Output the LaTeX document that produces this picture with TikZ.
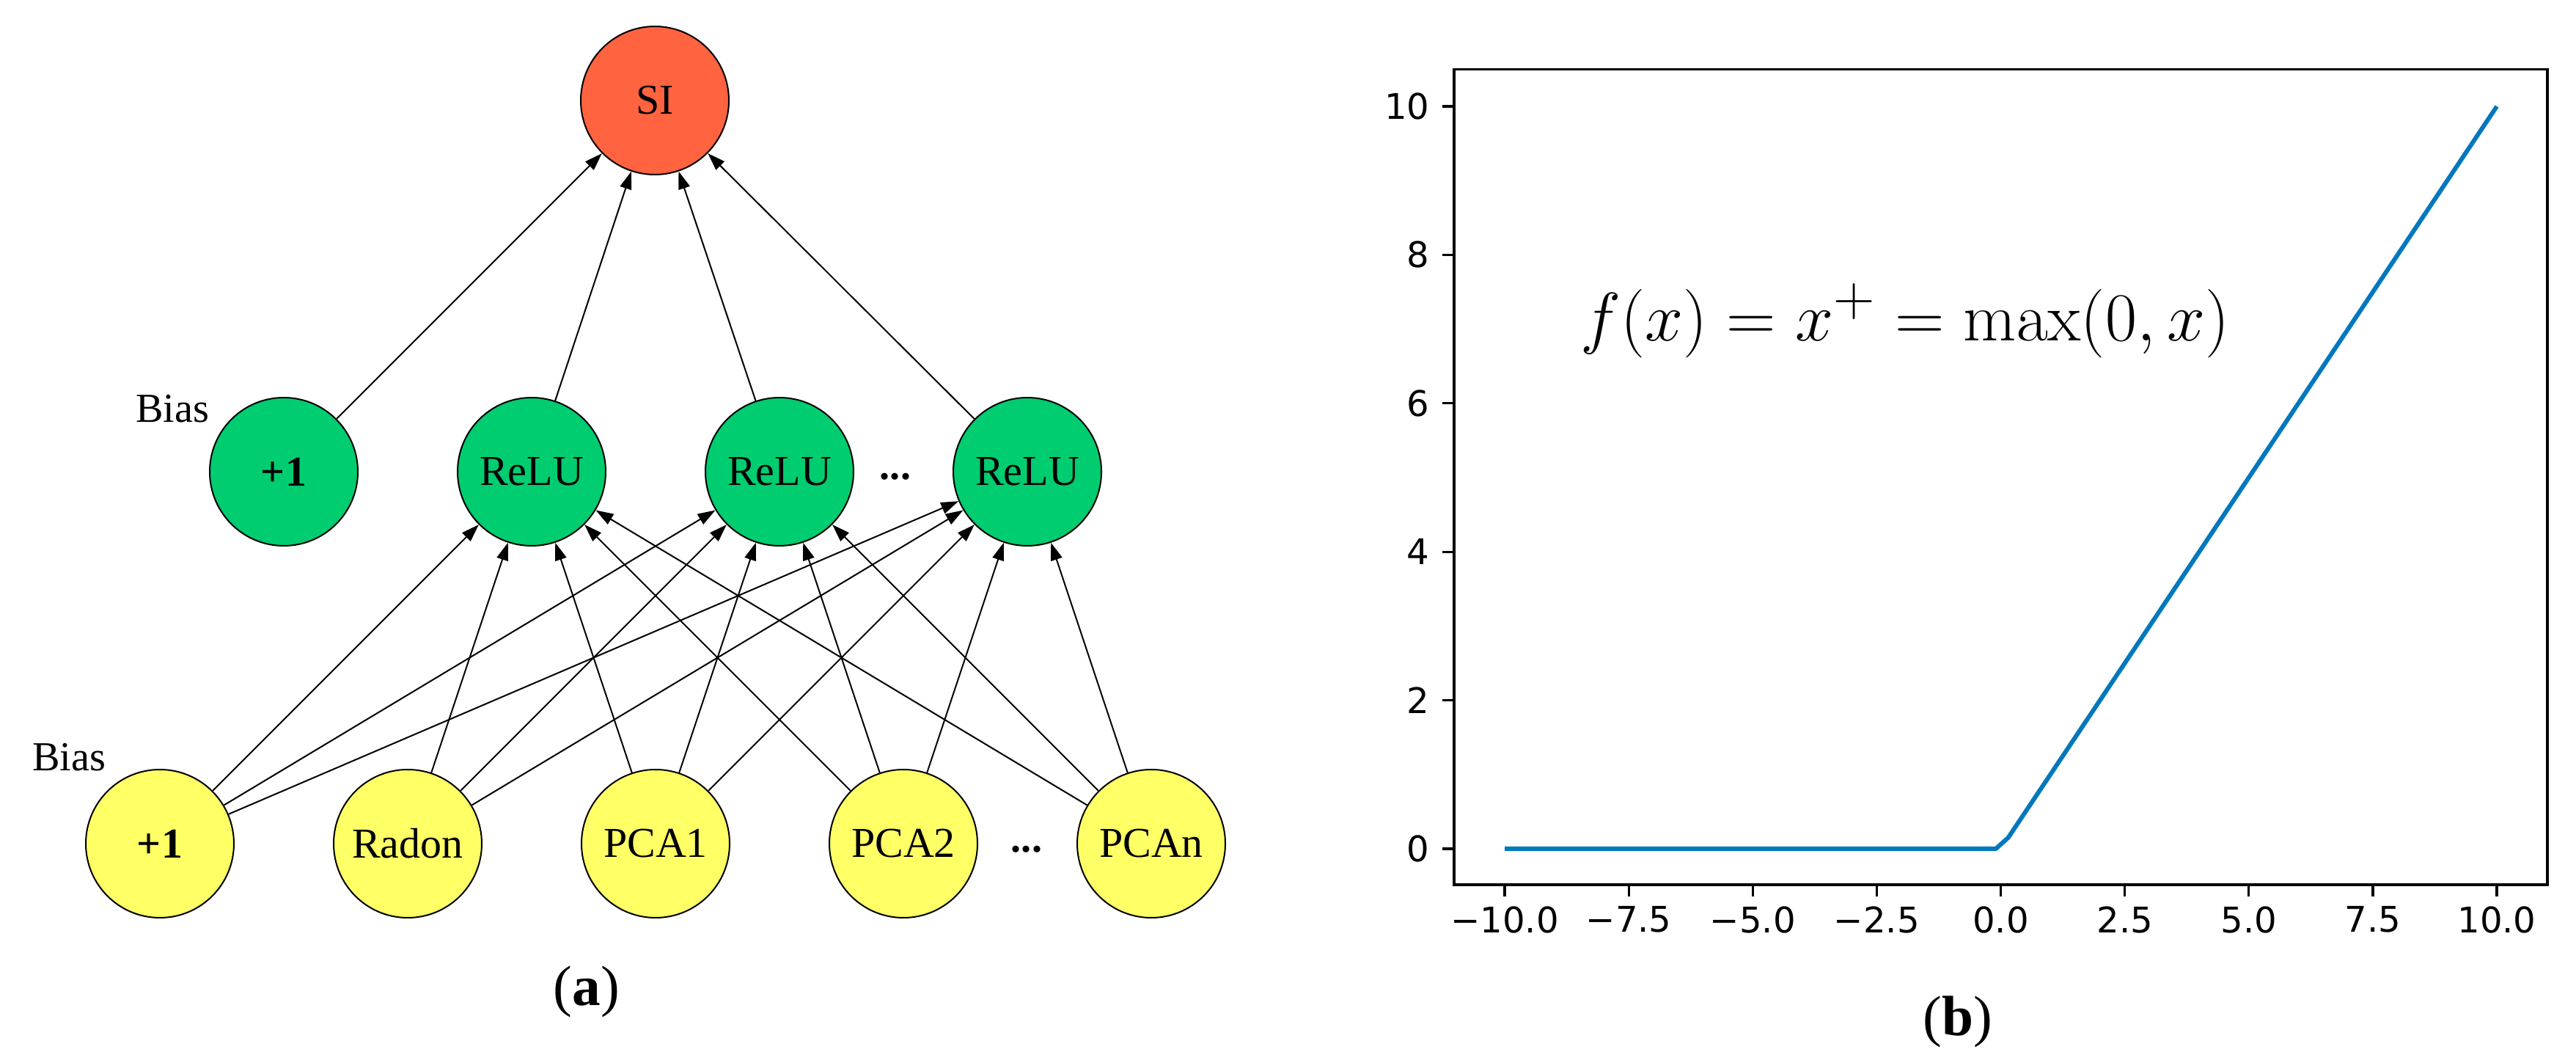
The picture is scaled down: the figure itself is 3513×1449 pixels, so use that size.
\documentclass[tikz,border=0pt]{standalone}
\usepackage[no-math]{fontspec}
\usepackage{amsmath}
\usepackage{tikz}
\usetikzlibrary{arrows.meta, positioning}
\newfontfamily\netfont{Liberation Serif}
\newfontfamily\tickfont{DejaVu Sans}
\definecolor{sired}{RGB}{255,99,64}
\definecolor{relugreen}{RGB}{0,204,112}
\definecolor{inyellow}{RGB}{255,255,102}
\definecolor{plotblue}{RGB}{0,120,190}

\begin{document}
\begin{tikzpicture}[x=0.1mm, y=-0.1mm, >={Triangle[length=2.4mm, width=1.6mm]},
  neuron/.style={circle, draw, line width=0.2mm, minimum size=20.2mm, inner sep=0pt,
    font=\netfont\fontsize{16.5}{18}\selectfont},
  conn/.style={->, line width=0.2mm},
  lbl/.style={font=\netfont\fontsize{16}{18}\selectfont, inner sep=0pt},
  axline/.style={line width=0.33mm},
  ticklbl/.style={inner sep=0pt, font=\tickfont\fontsize{13.7}{16}\selectfont},
  caption/.style={font=\netfont\fontsize{22}{26}\selectfont}]
  \useasboundingbox (0,0) rectangle (3513,1449);

  %% (a) network
  \node[neuron, fill=sired] (si) at (893,137) {SI};

  \node[neuron, fill=relugreen, font=\netfont\fontsize{16.5}{18}\selectfont\bfseries] (hb) at (387,643) {+1};
  \node[neuron, fill=relugreen] (h1) at (725,643) {ReLU};
  \node[neuron, fill=relugreen] (h2) at (1063,643) {ReLU};
  \node[neuron, fill=relugreen] (h3) at (1401,643) {ReLU};
  \node[lbl] (hdots) at (1221,650) {\bfseries ...};
  \node[lbl] (hbias) at (235,557) {Bias};

  \node[neuron, fill=inyellow, font=\netfont\fontsize{16.5}{18}\selectfont\bfseries] (ib) at (218,1150) {+1};
  \node[neuron, fill=inyellow] (radon) at (556,1150) {Radon};
  \node[neuron, fill=inyellow] (pca1) at (894,1150) {PCA1};
  \node[neuron, fill=inyellow] (pca2) at (1232,1150) {PCA2};
  \node[neuron, fill=inyellow] (pcan) at (1570,1150) {PCAn};
  \node[lbl] (idots) at (1400,1158) {\bfseries ...};
  \node[lbl] (ibias) at (94,1032) {Bias};

  \path[conn]
    (hb) edge (si)
    (h1) edge (si)
    (h2) edge (si)
    (h3) edge (si);
  \foreach \src in {ib, radon, pca1, pca2, pcan}
    \foreach \dst in {h1, h2, h3}
      \path[conn] (\src) edge (\dst);

  \node[caption] (capa) at (800,1352) {(\textbf{a})};

  %% (b) ReLU plot
  \node[font=\fontsize{24.88}{30}\selectfont] (relu) at (2598,437) {\scalebox{1.07}{$f(x) = x^+ = \max(0,x)$}};
  \begin{scope}[shift={(2728.5,1157)}, x=6.765mm, y=10.12mm]
    \draw[plotblue, line width=0.6mm, line join=round] (-10,0) -- (-0.1,0) -- (0.15,0.15) -- (10,10);
    \draw[axline] (-11.02,-0.485) rectangle (11.02,10.5);
    \foreach \v in {0,2,...,10} {
      \draw[axline] (-11.02,\v) -- ++(-1.6mm,0);
      \node[ticklbl, anchor=east] (yt\v) at ([xshift=-3.3mm]-11.02,\v) {\v};
    }
    \foreach \v/\t [count=\i] in {-10/−10.0, -7.5/−7.5, -5/−5.0, -2.5/−2.5, 0/0.0, 2.5/2.5, 5/5.0, 7.5/7.5, 10/10.0} {
      \draw[axline] (\v,-0.485) -- ++(0,-1.6mm);
      \node[ticklbl, anchor=north] (xt\i) at ([yshift=-2.9mm]\v,-0.485) {\t};
    }
  \end{scope}
  \node[caption] (capb) at (2670,1393) {(\textbf{b})};
\end{tikzpicture}
\end{document}
